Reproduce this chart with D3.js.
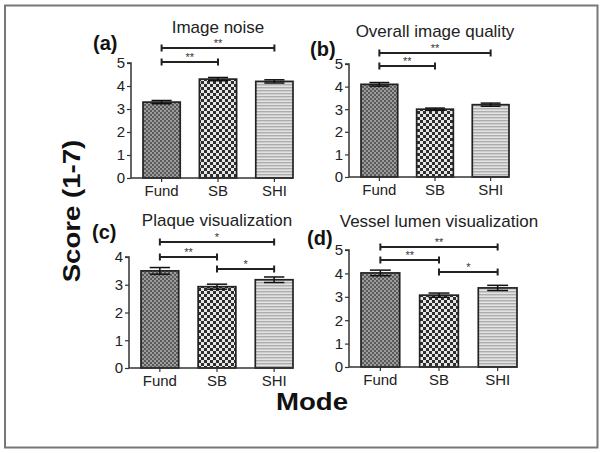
<!DOCTYPE html>
<html>
<head>
<meta charset="utf-8">
<script src="https://cdn.jsdelivr.net/npm/d3@7"></script>
<style>
  body { margin: 0; background: #fff; }
  svg { display: block; font-family: "Liberation Sans", Arial, sans-serif; }
</style>
</head>
<body>
<svg id="fig" width="604" height="453"></svg>
<script>
// data
const categories = ["Fund", "SB", "SHI"];
const titles = ["Image noise", "Overall image quality", "Plaque visualization", "Vessel lumen visualization"];
const panelLabels = ["(a)", "(b)", "(c)", "(d)"];
const means = [
  [3.3, 4.3, 4.2],
  [4.1, 3.0, 3.2],
  [3.5, 2.93, 3.18],
  [4.02, 3.07, 3.38]
];
const errors = [
  [0.07, 0.07, 0.07],
  [0.08, 0.05, 0.07],
  [0.12, 0.09, 0.1],
  [0.12, 0.09, 0.11]
];
const yMaxes = [5, 5, 4, 5];
// significance brackets: [from, to, stars, height in score units]
const brackets = [
  [["Fund", "SHI", "**", 5.65], ["Fund", "SB", "**", 5.04]],
  [["Fund", "SHI", "**", 5.49], ["Fund", "SB", "**", 4.91]],
  [["Fund", "SHI", "*", 4.54], ["Fund", "SB", "**", 4.0], ["SB", "SHI", "*", 3.57]],
  [["Fund", "SHI", "**", 5.13], ["Fund", "SB", "**", 4.57], ["SB", "SHI", "*", 4.06]]
];

// layout of each panel: axis left/right, top (y max), bottom (zero), title and label positions
const frames = [
  { x0: 131, x1: 293, top: 63, bottom: 178, titleY: 33, labelX: 93, labelY: 50 },
  { x0: 349, x1: 509, top: 64, bottom: 177, titleY: 37, labelX: 310, labelY: 56 },
  { x0: 129, x1: 293, top: 257, bottom: 368, titleY: 226, labelX: 92, labelY: 239 },
  { x0: 349, x1: 517, top: 250, bottom: 367, titleY: 227, labelX: 307, labelY: 245 }
];
const fills = ["url(#pFund)", "url(#pSB)", "url(#pSHI)"];

const svg = d3.select("#fig");
const defs = svg.append("defs");

// fine gray checker
const pf = defs.append("pattern").attr("id", "pFund").attr("patternUnits", "userSpaceOnUse")
  .attr("width", 4).attr("height", 4);
pf.append("rect").attr("width", 4).attr("height", 4).attr("fill", "#9c9c9c");
pf.append("rect").attr("width", 2).attr("height", 2).attr("fill", "#5a5a5a");
pf.append("rect").attr("x", 2).attr("y", 2).attr("width", 2).attr("height", 2).attr("fill", "#5a5a5a");

// coarse black/white checker
const ps = defs.append("pattern").attr("id", "pSB").attr("patternUnits", "userSpaceOnUse")
  .attr("width", 6).attr("height", 6);
ps.append("rect").attr("width", 6).attr("height", 6).attr("fill", "#e6e6e6");
ps.append("rect").attr("width", 3).attr("height", 3).attr("fill", "#2e2e2e");
ps.append("rect").attr("x", 3).attr("y", 3).attr("width", 3).attr("height", 3).attr("fill", "#2e2e2e");

// horizontal stripes
const ph = defs.append("pattern").attr("id", "pSHI").attr("patternUnits", "userSpaceOnUse")
  .attr("width", 4).attr("height", 3);
ph.append("rect").attr("width", 4).attr("height", 3).attr("fill", "#e2e2e2");
ph.append("rect").attr("width", 4).attr("height", 1.4).attr("fill", "#adadad");

// outer frame
svg.append("rect").attr("x", 5).attr("y", 5.5).attr("width", 592.5).attr("height", 442)
  .attr("fill", "none").attr("stroke", "#777").attr("stroke-width", 2);

frames.forEach((f, i) => {
  const g = svg.append("g");

  const y = d3.scaleLinear().domain([0, yMaxes[i]]).range([f.bottom, f.top]);
  const x = d3.scaleBand().domain(categories).range([f.x0 + 12, f.x1])
    .paddingInner(0.34).paddingOuter(0);

  // bars
  g.selectAll("rect.bar").data(categories).enter().append("rect")
    .attr("class", "bar")
    .attr("x", d => x(d))
    .attr("width", x.bandwidth())
    .attr("y", (d, j) => y(means[i][j]))
    .attr("height", (d, j) => y(0) - y(means[i][j]))
    .attr("fill", (d, j) => fills[j])
    .attr("stroke", "#222")
    .attr("stroke-width", 1.7);

  // error bars
  const cap = x.bandwidth() * 0.27;
  categories.forEach((c, j) => {
    const cx = x(c) + x.bandwidth() / 2;
    const hi = y(means[i][j] + errors[i][j]);
    const lo = y(means[i][j] - errors[i][j]);
    g.append("line").attr("x1", cx).attr("x2", cx).attr("y1", hi).attr("y2", lo)
      .attr("stroke", "#111").attr("stroke-width", 1.5);
    [hi, lo].forEach(v => {
      g.append("line").attr("x1", cx - cap).attr("x2", cx + cap).attr("y1", v).attr("y2", v)
        .attr("stroke", "#111").attr("stroke-width", 1.5);
    });
  });

  // axes
  const yAxis = g.append("g").attr("transform", `translate(${f.x0},0)`)
    .call(d3.axisLeft(y).ticks(yMaxes[i]).tickFormat(d3.format("d")).tickSize(4).tickPadding(2));
  const xAxis = g.append("g").attr("transform", `translate(0,${f.bottom})`)
    .call(d3.axisBottom(x).tickSize(4).tickPadding(3).tickSizeOuter(0));
  [yAxis, xAxis].forEach(a => {
    a.select(".domain").attr("stroke", "#333").attr("stroke-width", 1.5);
    a.selectAll(".tick line").attr("stroke", "#333").attr("stroke-width", 1.2);
    a.selectAll("text").attr("fill", "#222").style("font-size", "15px");
  });
  yAxis.select(".domain").attr("d", `M-4,${f.top}H0V${f.bottom}`);
  xAxis.select(".domain").attr("d", `M${f.x0},0H${f.x1}`);

  // significance brackets
  brackets[i].forEach(b => {
    const xa = x(b[0]) + x.bandwidth() / 2;
    const xb = x(b[1]) + x.bandwidth() / 2;
    const yy = y(b[3]);
    g.append("path")
      .attr("d", `M${xa},${yy - 3.5}V${yy + 3.5}M${xa},${yy}H${xb}M${xb},${yy - 3.5}V${yy + 3.5}`)
      .attr("fill", "none").attr("stroke", "#222").attr("stroke-width", 2);
    g.append("text").attr("x", (xa + xb) / 2).attr("y", yy - 1)
      .attr("text-anchor", "middle").attr("fill", "#333")
      .style("font-size", "11px").text(b[2]);
  });

  // title and panel label
  g.append("text").attr("x", (f.x0 + f.x1) / 2 + 6).attr("y", f.titleY)
    .attr("text-anchor", "middle").attr("fill", "#222")
    .style("font-size", "17px").text(titles[i]);
  g.append("text").attr("x", f.labelX).attr("y", f.labelY)
    .attr("fill", "#111").style("font-size", "20px").style("font-weight", "bold")
    .text(panelLabels[i]);
});

// shared axis titles
svg.append("text").attr("transform", "translate(80,211) rotate(-90) scale(1.15,1)")
  .attr("text-anchor", "middle").attr("fill", "#111")
  .style("font-size", "24px").style("font-weight", "bold").text("Score (1-7)");
svg.append("text").attr("transform", "translate(312,410) scale(1.15,1)")
  .attr("text-anchor", "middle").attr("fill", "#111")
  .style("font-size", "24px").style("font-weight", "bold").text("Mode");
</script>
</body>
</html>
